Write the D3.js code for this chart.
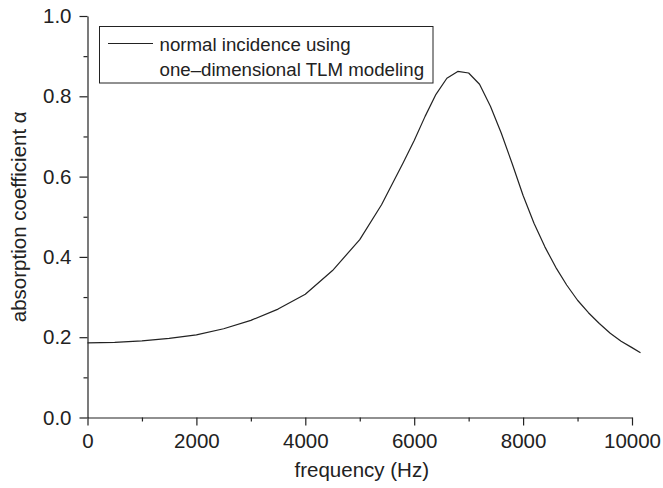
<!DOCTYPE html>
<html>
<head>
<meta charset="utf-8">
<script src="https://cdn.jsdelivr.net/npm/d3@7"></script>
<style>
body { margin: 0; background: #fff; }
text { font-family: "Liberation Sans", Arial, sans-serif; fill: #222; }
</style>
</head>
<body>
<div id="chart"></div>
<script>
// frequency (Hz) and absorption coefficient
var freq  = [0, 500, 1000, 1500, 2000, 2500, 3000, 3500, 4000, 4500, 5000, 5400, 5800, 6000, 6200, 6400, 6600, 6800, 7000, 7200, 7400, 7600, 7800, 8000, 8200, 8400, 8600, 8800, 9000, 9200, 9400, 9600, 9800, 10000, 10156];
var alpha = [0.186, 0.187, 0.191, 0.197, 0.206, 0.221, 0.242, 0.270, 0.307, 0.366, 0.443, 0.530, 0.635, 0.690, 0.750, 0.805, 0.845, 0.862, 0.858, 0.830, 0.775, 0.708, 0.632, 0.553, 0.484, 0.425, 0.374, 0.330, 0.292, 0.261, 0.234, 0.210, 0.190, 0.174, 0.161];
var xTicks = [0, 2000, 4000, 6000, 8000, 10000];
var xMinor = [1000, 3000, 5000, 7000, 9000];
var yTicks = [0, 0.2, 0.4, 0.6, 0.8, 1.0];
var yMinor = [0.1, 0.3, 0.5, 0.7, 0.9];
var legendLines = ["normal incidence using", "one\u2013dimensional TLM modeling"];

var W = 663, H = 488;
var margin = { left: 87.5, top: 16, right: 31, bottom: 70.5 };

var svg = d3.select("#chart").append("svg")
    .attr("width", W).attr("height", H);

var x = d3.scaleLinear().domain([0, 10000]).range([margin.left, W - margin.right]);
var y = d3.scaleLinear().domain([0, 1]).range([H - margin.bottom, margin.top]);

var ink = "#222";

// x axis
var gx = svg.append("g").attr("transform", "translate(0," + y(0) + ")");
gx.call(d3.axisBottom(x).tickValues(xTicks).tickSize(8).tickSizeOuter(0).tickPadding(8)
    .tickFormat(d3.format("d")));
gx.append("g").call(d3.axisBottom(x).tickValues(xMinor).tickSize(4).tickSizeOuter(0).tickFormat(""))
    .select(".domain").remove();

// y axis
var gy = svg.append("g").attr("transform", "translate(" + x(0) + ",0)");
gy.call(d3.axisLeft(y).tickValues(yTicks).tickSize(8).tickSizeOuter(0).tickPadding(8)
    .tickFormat(d3.format(".1f")));
gy.append("g").call(d3.axisLeft(y).tickValues(yMinor).tickSize(4).tickSizeOuter(0).tickFormat(""))
    .select(".domain").remove();

svg.selectAll(".domain, .tick line").attr("stroke", ink).attr("stroke-width", 1.2);
svg.selectAll(".tick text").style("font-size", "20.5px").style("font-family", "Liberation Sans, Arial, sans-serif").attr("fill", ink);

// axis titles
svg.append("text")
    .attr("x", x(5000) + 2).attr("y", 477)
    .attr("text-anchor", "middle")
    .style("font-size", "20.5px")
    .text("frequency (Hz)");

svg.append("text")
    .attr("transform", "translate(26," + y(0.5) + ") rotate(-90)")
    .attr("text-anchor", "middle")
    .style("font-size", "20.5px")
    .text("absorption coefficient \u03B1");

// the curve
var data = freq.map(function (f, i) { return { f: f, a: alpha[i] }; });
svg.append("path")
    .datum(data)
    .attr("fill", "none")
    .attr("stroke", ink)
    .attr("stroke-width", 1.2)
    .attr("stroke-linejoin", "round")
    .attr("d", d3.line()
        .x(function (d) { return x(d.f); })
        .y(function (d) { return y(d.a); }));

// legend
var lg = svg.append("g");
lg.append("rect")
    .attr("x", 99.5).attr("y", 26.5).attr("width", 333.5).attr("height", 56.5)
    .attr("fill", "#fff").attr("stroke", ink).attr("stroke-width", 1);
lg.append("line")
    .attr("x1", 108).attr("x2", 153).attr("y1", 43.5).attr("y2", 43.5)
    .attr("stroke", ink).attr("stroke-width", 1.2);
lg.selectAll("text.leg")
    .data(legendLines)
    .enter().append("text")
    .attr("class", "leg")
    .attr("x", 159.5)
    .attr("y", function (d, i) { return 50.5 + i * 25; })
    .style("font-size", "18.7px")
    .text(function (d) { return d; });
</script>
</body>
</html>
